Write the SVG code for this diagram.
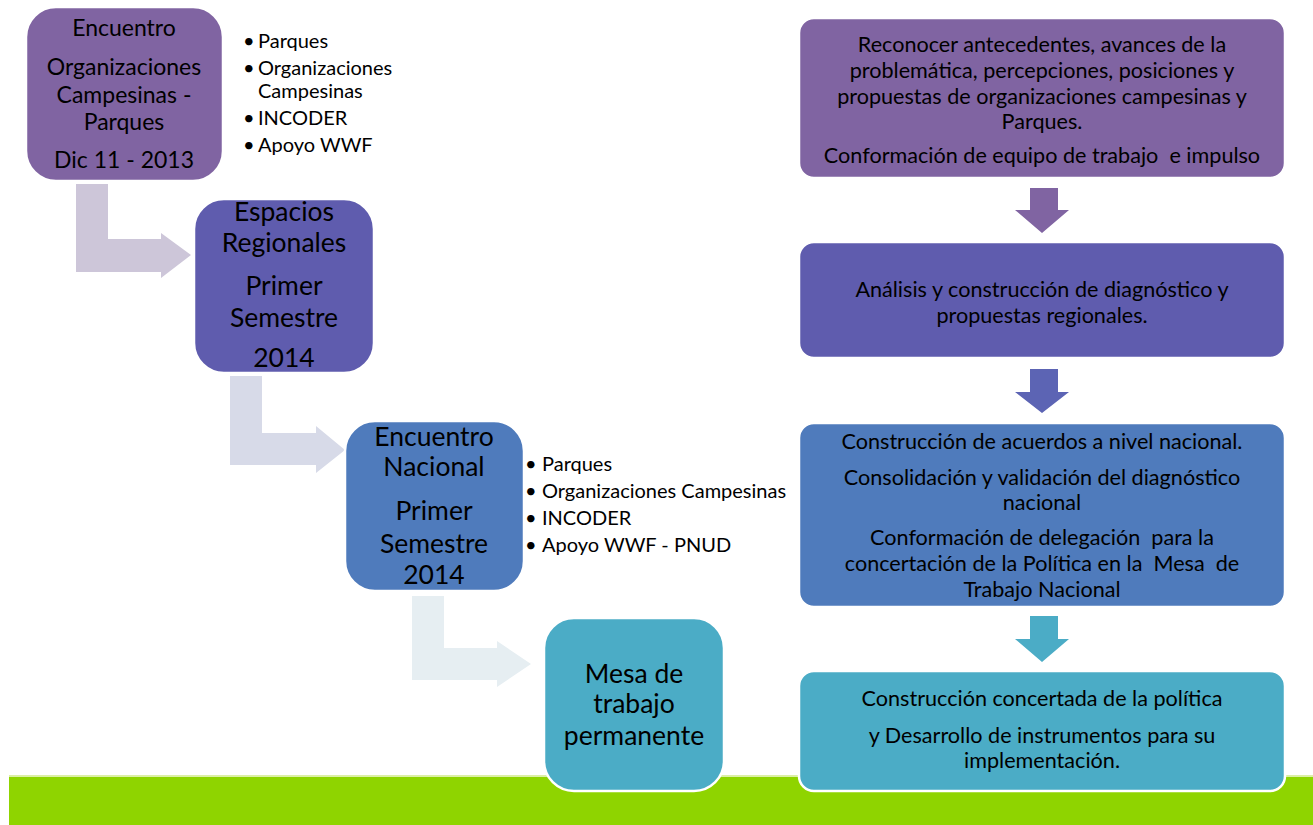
<svg xmlns="http://www.w3.org/2000/svg" width="1313" height="825" viewBox="0 0 1313 825">
<style>
text{font-family:Lato,"Open Sans","Liberation Sans",sans-serif;fill:#000}
.c{text-anchor:middle}
.big{font-size:26.5px}
.b1{font-size:23px}
.bl{font-size:20px}
.r{font-size:21.6px}
.box{stroke:#fff;stroke-width:2.5}
</style>
<rect x="0" y="0" width="1313" height="825" fill="#fff"/>
<g id="ground">
<rect x="9" y="775" width="1304" height="3" fill="#DCEFA6"/>
<rect x="9" y="777" width="1304" height="48" fill="#8FD400"/>
</g>
<g id="connectors">
<path d="M76,184 H108 V239 H161 V233 L191,255 L161,278 V272 H76 Z" fill="#CDC6D9"/>
<path d="M230,376 H262 V433 H316 V426 L345,450 L316,473 V465 H230 Z" fill="#D7DAE8"/>
<path d="M412,596 H444 V648 H497 V641 L531,664 L497,687 V680 H412 Z" fill="#E6EEF2"/>
<path d="M1030,188 H1058 V210 H1069 L1042,233 L1015,210 H1030 Z" fill="#8064A2"/>
<path d="M1030,369 H1058 V392 H1069 L1042,413 L1015,392 H1030 Z" fill="#5C64B4"/>
<path d="M1030,616 H1058 V639 H1069 L1042,662 L1015,639 H1030 Z" fill="#4BACC6"/>
</g>
<g id="n1">
<rect class="box" x="26" y="7" width="197" height="174" rx="30" fill="#8064A2"/>
<text class="c b1" x="124" y="36">Encuentro</text>
<text class="c b1" x="124" y="75">Organizaciones</text>
<text class="c b1" x="124" y="103">Campesinas -</text>
<text class="c b1" x="124" y="130">Parques</text>
<text class="c b1" x="124" y="168">Dic 11 - 2013</text>
</g>
<g id="list1">
<text class="bl" x="243" y="48">•</text><text class="bl" x="258" y="48">Parques</text>
<text class="bl" x="243" y="75">•</text><text class="bl" x="258" y="75">Organizaciones</text>
<text class="bl" x="258" y="98">Campesinas</text>
<text class="bl" x="243" y="125">•</text><text class="bl" x="258" y="125">INCODER</text>
<text class="bl" x="243" y="152">•</text><text class="bl" x="258" y="152">Apoyo WWF</text>
</g>
<g id="n2">
<rect class="box" x="194" y="199" width="180" height="174" rx="30" fill="#5F5CAE"/>
<text class="c big" x="284" y="221">Espacios</text>
<text class="c big" x="284" y="252">Regionales</text>
<text class="c big" x="284" y="295">Primer</text>
<text class="c big" x="284" y="327">Semestre</text>
<text class="c big" x="284" y="367">2014</text>
</g>
<g id="n3">
<rect class="box" x="345" y="421" width="179" height="170" rx="30" fill="#4F7BBC"/>
<text class="c big" x="434" y="446">Encuentro</text>
<text class="c big" x="434" y="476">Nacional</text>
<text class="c big" x="434" y="520">Primer</text>
<text class="c big" x="434" y="553">Semestre</text>
<text class="c big" x="434" y="584">2014</text>
</g>
<g id="list2">
<text class="bl" x="525" y="471">•</text><text class="bl" x="542" y="471">Parques</text>
<text class="bl" x="525" y="498">•</text><text class="bl" x="542" y="498">Organizaciones Campesinas</text>
<text class="bl" x="525" y="525">•</text><text class="bl" x="542" y="525">INCODER</text>
<text class="bl" x="525" y="552">•</text><text class="bl" x="542" y="552">Apoyo WWF - PNUD</text>
</g>
<g id="n4">
<rect class="box" x="544" y="618" width="180" height="173" rx="30" fill="#4BACC6"/>
<text class="c big" x="634" y="683">Mesa de</text>
<text class="c big" x="634" y="713">trabajo</text>
<text class="c big" x="634" y="745">permanente</text>
</g>
<g id="r1">
<rect class="box" x="799" y="18" width="486" height="160" rx="15" fill="#8064A2"/>
<text class="c r" x="1042" y="51.5">Reconocer antecedentes, avances de la</text>
<text class="c r" x="1042" y="77.5">problemática, percepciones, posiciones y</text>
<text class="c r" x="1042" y="103.5">propuestas de organizaciones campesinas y</text>
<text class="c r" x="1042" y="128.5">Parques.</text>
<text class="c r" x="1042" y="162.5" xml:space="preserve">Conformación de equipo de trabajo  e impulso</text>
</g>
<g id="r2">
<rect class="box" x="799" y="242" width="486" height="116" rx="15" fill="#5F5CAE"/>
<text class="c r" x="1042" y="296.5">Análisis y construcción de diagnóstico y</text>
<text class="c r" x="1042" y="322.5">propuestas regionales.</text>
</g>
<g id="r3">
<rect class="box" x="799" y="423" width="486" height="184" rx="15" fill="#4F7BBC"/>
<text class="c r" x="1042" y="448.5">Construcción de acuerdos a nivel nacional.</text>
<text class="c r" x="1042" y="484.5">Consolidación y validación del diagnóstico</text>
<text class="c r" x="1042" y="509.5">nacional</text>
<text class="c r" x="1042" y="544.5" xml:space="preserve">Conformación de delegación  para la</text>
<text class="c r" x="1042" y="570.5" xml:space="preserve">concertación de la Política en la  Mesa  de</text>
<text class="c r" x="1042" y="596.5">Trabajo Nacional</text>
</g>
<g id="r4">
<rect class="box" x="799" y="671" width="486" height="120" rx="15" fill="#4BACC6"/>
<text class="c r" x="1042" y="705.5">Construcción concertada de la política</text>
<text class="c r" x="1042" y="742.5">y Desarrollo de instrumentos para su</text>
<text class="c r" x="1042" y="767.5">implementación.</text>
</g>
</svg>
